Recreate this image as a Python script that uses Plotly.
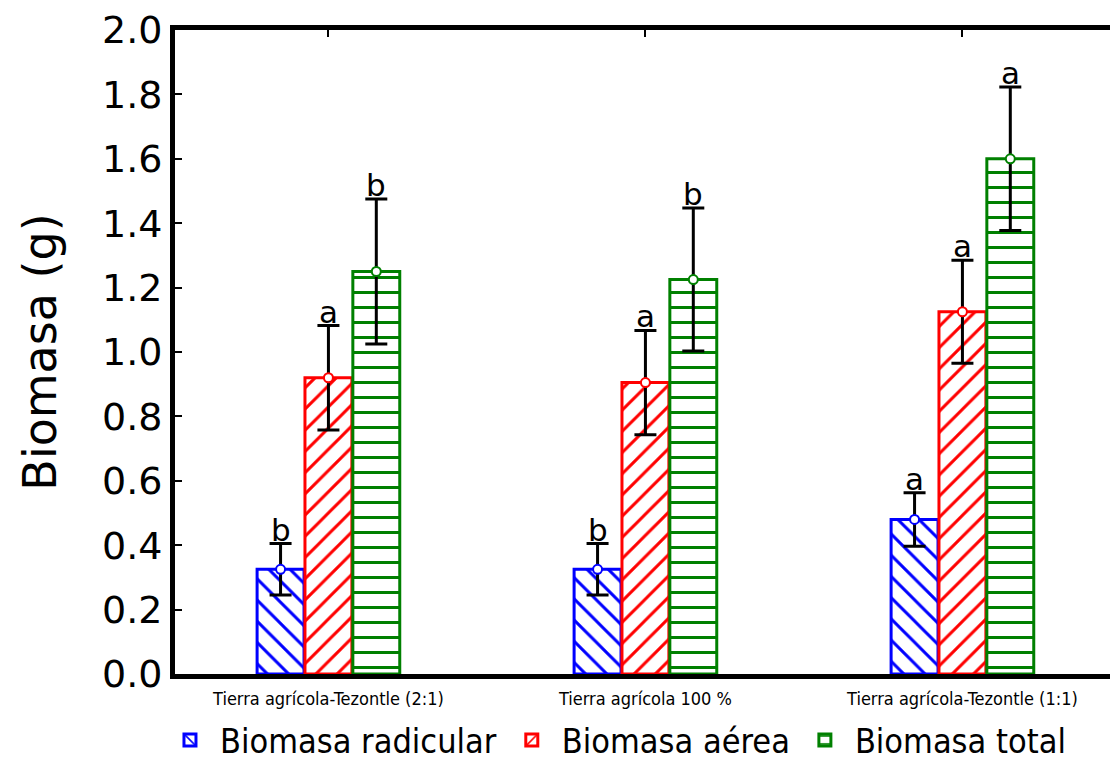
import plotly.graph_objects as go

categories = ["Tierra agrícola-Tezontle (2:1)", "Tierra agrícola 100 %", "Tierra agrícola-Tezontle (1:1)"]
series_names = ["Biomasa radicular", "Biomasa aérea", "Biomasa total"]
radicular = [0.325, 0.325, 0.48]
aerea = [0.92, 0.905, 1.125]
total = [1.25, 1.225, 1.60]
radicular_err = [0.08, 0.08, 0.083]
aerea_err = [0.162, 0.162, 0.16]
total_err = [0.225, 0.222, 0.223]
radicular_letters = ["b", "b", "a"]
aerea_letters = ["a", "a", "a"]
total_letters = ["b", "b", "a"]
y_ticks = [0.0, 0.2, 0.4, 0.6, 0.8, 1.0, 1.2, 1.4, 1.6, 1.8, 2.0]

values = [radicular, aerea, total]
errors = [radicular_err, aerea_err, total_err]
letters = [radicular_letters, aerea_letters, total_letters]
colors = ["#0000ff", "#ff0000", "#008000"]
shapes = ["\\", "/", "-"]
offsets = [-0.151, 0.0, 0.151]
bar_w = 0.148

fig = go.Figure()
idx = list(range(len(categories)))
for s in range(3):
    xs = [i + offsets[s] for i in idx]
    fig.add_trace(go.Bar(
        x=xs, y=values[s], width=bar_w, name=series_names[s],
        marker=dict(color="white", line=dict(color=colors[s], width=3),
                    pattern=dict(shape=shapes[s], fgcolor=colors[s], bgcolor="white",
                                 fgopacity=1, size=15, solidity=0.2)),
    ))
for s in range(3):
    xs = [i + offsets[s] for i in idx]
    fig.add_trace(go.Scatter(
        x=xs, y=values[s], mode="markers", showlegend=False,
        marker=dict(symbol="circle", size=9, color="white", line=dict(color=colors[s], width=2)),
        error_y=dict(type="data", array=errors[s], color="black", thickness=3, width=11),
    ))
    for i in idx:
        fig.add_annotation(x=i + offsets[s], y=values[s][i] + errors[s][i], text=letters[s][i],
                           showarrow=False, yanchor="bottom", yshift=-6,
                           font=dict(family="DejaVu Sans", size=31, color="black"))

fig.update_layout(
    width=1118, height=763,
    margin=dict(l=167, r=0, t=12, b=97),
    paper_bgcolor="white", plot_bgcolor="white",
    barmode="overlay",
    showlegend=True,
    legend=dict(orientation="h", x=-0.0158, xanchor="left", y=-0.058, yanchor="top",
                font=dict(family="DejaVu Sans Condensed, DejaVu Sans", size=34, color="black"),
                itemwidth=50, tracegroupgap=0, bgcolor="rgba(0,0,0,0)"),
    xaxis=dict(range=[-0.484, 2.516], tickvals=idx, ticktext=categories,
               showline=True, linecolor="black", linewidth=5, ticks="",
               showgrid=False, zeroline=False, ticklabelstandoff=4,
               tickfont=dict(family="DejaVu Sans Condensed", size=18, color="black")),
    xaxis2=dict(overlaying="x", matches="x", side="top", tickvals=idx, showticklabels=False,
                showline=True, linecolor="black", linewidth=5, ticks="inside", ticklen=7,
                tickwidth=2, tickcolor="black", showgrid=False, zeroline=False),
    yaxis=dict(range=[0, 2.0], tickvals=y_ticks, ticktext=[f"{v:.1f}" for v in y_ticks],
               showline=True, linecolor="black", linewidth=5, ticks="inside", ticklen=7,
               tickwidth=2, tickcolor="black", showgrid=False, zeroline=False,
               ticklabeloverflow="allow",
               tickfont=dict(family="DejaVu Sans", size=38, color="black"),
               title=dict(text="Biomasa (g)", standoff=32,
                          font=dict(family="DejaVu Sans", size=46, color="black"))),
)
fig.add_trace(go.Scatter(x=[0], y=[0], xaxis="x2", mode="markers", marker=dict(opacity=0),
                         showlegend=False, hoverinfo="skip"))
fig.write_html("out.html")
